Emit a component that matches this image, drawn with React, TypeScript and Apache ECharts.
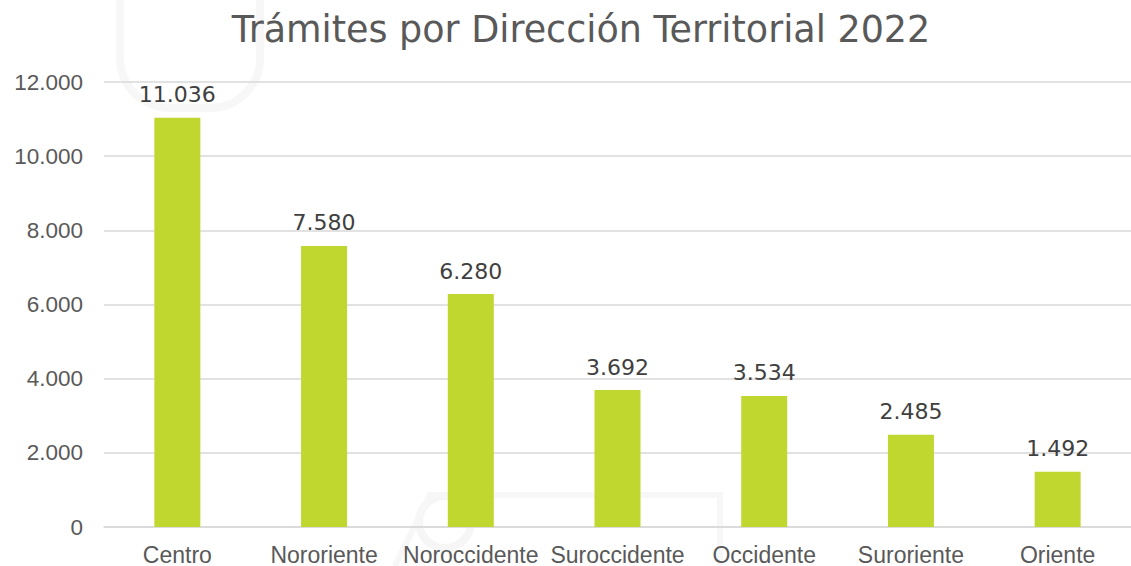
import React, { useEffect, useRef } from "react";
import * as echarts from "echarts";

const titleText = "Trámites por Dirección Territorial 2022";
const categories = ["Centro", "Nororiente", "Noroccidente", "Suroccidente", "Occidente", "Suroriente", "Oriente"];
const values = [11036, 7580, 6280, 3692, 3534, 2485, 1492];
const yMin = 0;
const yMax = 12000;
const yInterval = 2000;

const fmt = (v: number) => String(Math.round(v)).replace(/\B(?=(\d{3})+(?!\d))/g, ".");

export default function App() {
  const ref = useRef<HTMLDivElement>(null);
  useEffect(() => {
    if (!ref.current) return;
    const chart = echarts.init(ref.current, undefined, { renderer: "svg" });
    chart.setOption({
      animation: false,
      backgroundColor: "#ffffff",
      title: {
        text: titleText,
        left: 576,
        textAlign: "center",
        top: 6,
        textStyle: { fontFamily: "DejaVu Sans", fontWeight: "normal", fontSize: 36.5, color: "#595959" },
      },
      graphic: [
        {
          type: "rect",
          z: -10,
          silent: true,
          shape: { x: 120, y: -70, width: 140, height: 178, r: [0, 0, 50, 50] },
          style: { fill: "none", stroke: "#f7f7f7", lineWidth: 8 },
        },
        {
          type: "ring",
          z: -10,
          silent: true,
          shape: { cx: 445, cy: 522, r: 30, r0: 22 },
          style: { fill: "#f6f6f6" },
        },
        {
          type: "polyline",
          z: -10,
          silent: true,
          shape: { points: [[395, 566], [430, 495], [720, 495], [720, 566]] },
          style: { fill: "none", stroke: "#f7f7f7", lineWidth: 6 },
        },
      ],
      grid: { left: 104, top: 82, width: 1034, height: 445 },
      xAxis: {
        type: "category",
        data: categories,
        axisLine: { show: true, lineStyle: { color: "#d9d9d9", width: 1.5 } },
        axisTick: { show: false },
        axisLabel: { color: "#595959", fontSize: 23, fontFamily: "Liberation Sans", margin: 16, interval: 0 },
      },
      yAxis: {
        type: "value",
        min: yMin,
        max: yMax,
        interval: yInterval,
        axisLine: { show: false },
        axisTick: { show: false },
        splitLine: { lineStyle: { color: "#d9d9d9", width: 1.5 } },
        axisLabel: {
          color: "#595959",
          fontSize: 22.5,
          fontFamily: "Liberation Sans",
          margin: 21,
          formatter: (v: number) => fmt(v),
        },
      },
      series: [
        {
          type: "bar",
          data: values,
          barWidth: 46,
          itemStyle: { color: "#C0D730" },
          label: {
            show: true,
            position: "top",
            distance: 12,
            color: "#404040",
            fontSize: 22,
            fontFamily: "DejaVu Sans",
            formatter: (p: any) => fmt(p.value),
          },
        },
      ],
    });
    return () => chart.dispose();
  }, []);
  return <div ref={ref} style={{ position: "absolute", left: 0, top: 0, width: 1131, height: 566 }} />;
}
